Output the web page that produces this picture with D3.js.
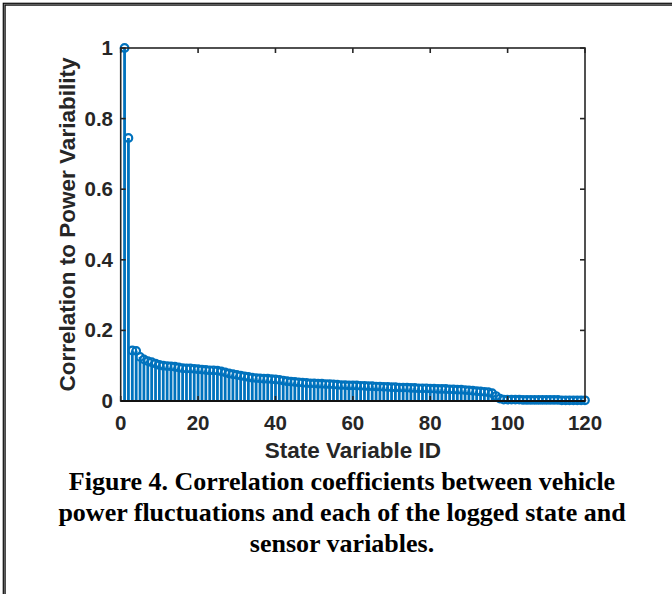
<!DOCTYPE html>
<html><head><meta charset="utf-8">
<script src="https://cdn.jsdelivr.net/npm/d3@7"></script>
<style>html,body{margin:0;padding:0;background:#fff;overflow:hidden}</style>
</head><body>
<script>
// Data
const ids = d3.range(1, 121);
const corr = [
1.0, 0.745, 0.143, 0.142, 0.125, 0.118, 0.113, 0.110, 0.106, 0.102,
0.100, 0.099, 0.098, 0.097, 0.095, 0.093, 0.092, 0.092, 0.091, 0.090,
0.089, 0.088, 0.087, 0.087, 0.086, 0.084, 0.081, 0.078, 0.076, 0.074,
0.072, 0.070, 0.068, 0.066, 0.065, 0.064, 0.063, 0.063, 0.062, 0.061,
0.060, 0.058, 0.056, 0.055, 0.054, 0.053, 0.052, 0.051, 0.050, 0.050,
0.049, 0.049, 0.048, 0.048, 0.047, 0.046, 0.045, 0.045, 0.044, 0.044,
0.044, 0.043, 0.043, 0.042, 0.042, 0.041, 0.041, 0.040, 0.040, 0.039,
0.039, 0.038, 0.038, 0.038, 0.037, 0.037, 0.036, 0.036, 0.036, 0.035,
0.035, 0.034, 0.034, 0.034, 0.033, 0.033, 0.032, 0.032, 0.031, 0.030,
0.029, 0.028, 0.027, 0.026, 0.025, 0.022, 0.014, 0.007, 0.004, 0.004,
0.004, 0.004, 0.004, 0.003, 0.003, 0.003, 0.003, 0.003, 0.003, 0.003,
0.003, 0.003, 0.003, 0.002, 0.002, 0.002, 0.002, 0.002, 0.002, 0.002
];
const xTicks = [0, 20, 40, 60, 80, 100, 120];
const yTicks = [0, 0.2, 0.4, 0.6, 0.8, 1];
const yTickLabels = ["0", "0.2", "0.4", "0.6", "0.8", "1"];
const xLabel = "State Variable ID";
const yLabel = "Correlation to Power Variability";
const caption = [
  "Figure 4. Correlation coefficients between vehicle",
  "power fluctuations and each of the logged state and",
  "sensor variables."
];

const W = 672, H = 594;
const L = 120.7, R = 585, T = 48, B = 401;
const blue = "#0072BD", axc = "#262626";

const svg = d3.select("body").append("svg").attr("width", W).attr("height", H);

// outer frame (double line, open on right/bottom)
svg.append("rect").attr("x", 4.2).attr("y", 4.2).attr("width", 800).attr("height", 800)
  .attr("fill", "none").attr("stroke", "#000").attr("stroke-width", 3);
svg.append("rect").attr("x", 4.2).attr("y", 4.2).attr("width", 800).attr("height", 800)
  .attr("fill", "none").attr("stroke", "#999").attr("stroke-width", 0.8);

const x = d3.scaleLinear().domain([0, 120]).range([L, R]);
const y = d3.scaleLinear().domain([0, 1]).range([B, T]);

const data = ids.map((id, i) => ({id, v: corr[i]}));

// stems
svg.append("g").selectAll("line").data(data).join("line")
  .attr("x1", d => x(d.id)).attr("x2", d => x(d.id))
  .attr("y1", y(0)).attr("y2", d => y(d.v))
  .attr("stroke", blue).attr("stroke-width", 2.8);

// markers
svg.append("g").selectAll("circle").data(data).join("circle")
  .attr("cx", d => x(d.id)).attr("cy", d => y(d.v)).attr("r", 3.8)
  .attr("fill", "none").attr("stroke", blue).attr("stroke-width", 2.2);

// axes box
const font = "'Liberation Sans', Arial, Helvetica, sans-serif";
const tl = 5;
const ax = svg.append("g").attr("stroke", axc).attr("stroke-width", 1.6).attr("fill", "none");
ax.append("rect").attr("x", L).attr("y", T).attr("width", R - L).attr("height", B - T);
xTicks.forEach(t => {
  ax.append("line").attr("x1", x(t)).attr("x2", x(t)).attr("y1", B).attr("y2", B - tl);
  ax.append("line").attr("x1", x(t)).attr("x2", x(t)).attr("y1", T).attr("y2", T + tl);
});
yTicks.forEach(t => {
  ax.append("line").attr("y1", y(t)).attr("y2", y(t)).attr("x1", L).attr("x2", L + tl);
  ax.append("line").attr("y1", y(t)).attr("y2", y(t)).attr("x1", R).attr("x2", R - tl);
});
// baseline
svg.append("line").attr("x1", L).attr("x2", R).attr("y1", y(0)).attr("y2", y(0))
  .attr("stroke", "#111").attr("stroke-width", 2);

// tick labels
svg.append("g").selectAll("text").data(xTicks).join("text")
  .attr("x", d => x(d)).attr("y", 430).attr("text-anchor", "middle")
  .attr("font-family", font).attr("font-weight", "bold").attr("font-size", 20.5)
  .attr("fill", axc).text(d => d);
svg.append("g").selectAll("text").data(yTicks).join("text")
  .attr("x", 113).attr("y", d => y(d) + 7).attr("text-anchor", "end")
  .attr("font-family", font).attr("font-weight", "bold").attr("font-size", 20.5)
  .attr("fill", axc).text((d, i) => yTickLabels[i]);

// axis labels
svg.append("text").attr("x", (L + R) / 2).attr("y", 458).attr("text-anchor", "middle")
  .attr("font-family", font).attr("font-weight", "bold").attr("font-size", 22.5)
  .attr("fill", axc).text(xLabel);
svg.append("text").attr("transform", `translate(75,${(T + B) / 2}) rotate(-90)`)
  .attr("text-anchor", "middle")
  .attr("font-family", font).attr("font-weight", "bold").attr("font-size", 22.5)
  .attr("fill", axc).text(yLabel);

// caption
svg.append("g").selectAll("text").data(caption).join("text")
  .attr("x", 342).attr("y", (d, i) => 490 + i * 31).attr("text-anchor", "middle")
  .attr("font-family", "'Liberation Serif', 'Times New Roman', serif")
  .attr("font-weight", "bold").attr("font-size", 26).attr("fill", "#000").text(d => d);
</script>
</body></html>
